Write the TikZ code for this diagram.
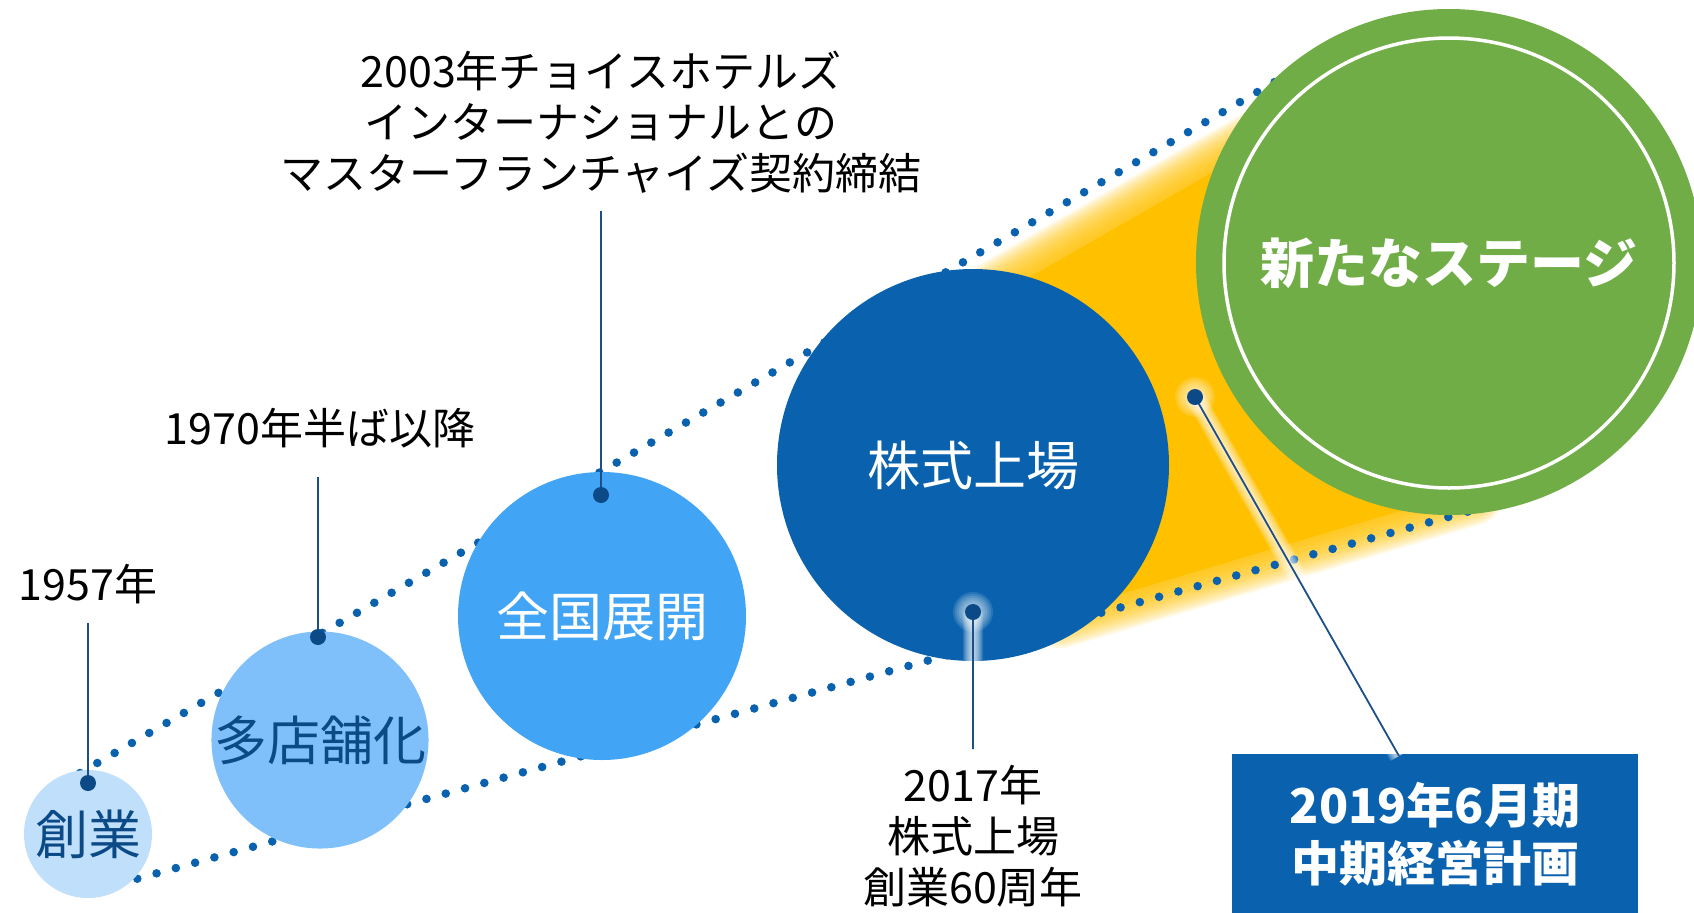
\documentclass[tikz,border=0pt]{standalone}
\usepackage{fontspec}
\setmainfont{Noto Sans CJK JP}
\definecolor{pale}{HTML}{BFDFFB}
\definecolor{sky}{HTML}{80C0FA}
\definecolor{mid}{HTML}{42A4F5}
\definecolor{deep}{HTML}{0A62AE}
\definecolor{navy}{HTML}{0B4A86}
\definecolor{leaf}{HTML}{70AD47}
\definecolor{gold}{HTML}{FFC000}
\definecolor{wire}{HTML}{1D4F87}
\tikzset{ball/.style={circle,inner sep=0pt,font=\fontsize{26.5}{30}\selectfont},
tag/.style={align=center,inner sep=0pt,font=\fontsize{21.5}{25.5}\selectfont},
pin/.style={circle,fill=navy,inner sep=0pt,minimum size=8pt},
conn/.style={wire,line width=0.9pt},
dots/.style={deep,line width=4.3pt,line cap=round,dash pattern=on 0pt off 10pt}}
\begin{document}
\begin{tikzpicture}[x=0.5pt,y=-0.5pt]
\useasboundingbox(0,0)rectangle(1694,912);
\clip(0,0)rectangle(1694,912);
\fill[gold](990,300)--(1330,105)--(1470,490)--(1060,612)--cycle;
\foreach \w in{2,4,...,36}
\draw[gold,opacity=.1,line width=\w pt,line join=round](990,300)--(1330,105)--(1470,490)--(1060,612)--cycle;
\coordinate(u0)at(80,773);\coordinate(u1)at(1330,50);
\coordinate(v0)at(118,884);\coordinate(v1)at(1470,511);
\draw[dots](u0)--(u1);\draw[dots](v0)--(v1);
\node[ball,fill=pale,text=navy,minimum size=64pt](sogyo)at(88,834){創業};
\node[ball,fill=sky,text=navy,minimum size=102pt](tenpo)at(320,740){多店舗化};
\node[ball,fill=mid,text=white,minimum size=144pt](zenkoku)at(602,616){全国展開};
\node[ball,fill=deep,text=white,minimum size=196pt](jojo)at(973,465){株式上場};
\node[circle,fill=leaf,minimum size=253pt](stage)at(1449,262){};
\node[circle,draw=white,line width=1.75pt,minimum size=225pt,text=white,
font=\fontsize{27}{30}\selectfont\bfseries](ring)at(1449,263){新たなステージ};
\node[tag](t57)at(88,584){1957年};
\node[tag](t70)at(320,428){1970年半ば以降};
\node[tag](t03)at(601,122){2003年チョイスホテルズ\\インターナショナルとの\\マスターフランチャイズ契約締結};
\node[tag](t17)at(973,836){2017年\\株式上場\\創業60周年};
\node[fill=deep,text=white,minimum width=203pt,minimum height=80pt,align=center,
font=\fontsize{24}{29}\selectfont\bfseries](plan)at(1435,834){2019年6月期\\中期経営計画};
\coordinate(k57)at(88,783);\coordinate(a57)at(88,623);
\coordinate(k70)at(318,637);\coordinate(a70)at(318,477);
\coordinate(k03)at(601,495);\coordinate(a03)at(601,211);
\coordinate(k17)at(973,612);\coordinate(a17)at(973,749);
\coordinate(k19)at(1195,397);\coordinate(a19)at(1399,756);
\foreach \w in{1,2,...,10}{
\draw[white,opacity=.12,line width=\w pt](k17)--(a17)(k19)--(a19);
\fill[white,opacity=.12](k17)circle(2*\w)(k19)circle(2*\w);}
\draw[conn](a57)--(k57)(a70)--(k70)(a03)--(k03)(a17)--(k17)(a19)--(k19);
\node[pin](d57)at(k57){};\node[pin](d70)at(k70){};\node[pin](d03)at(k03){};
\node[pin](d17)at(k17){};\node[pin](d19)at(k19){};
\end{tikzpicture}
\end{document}
